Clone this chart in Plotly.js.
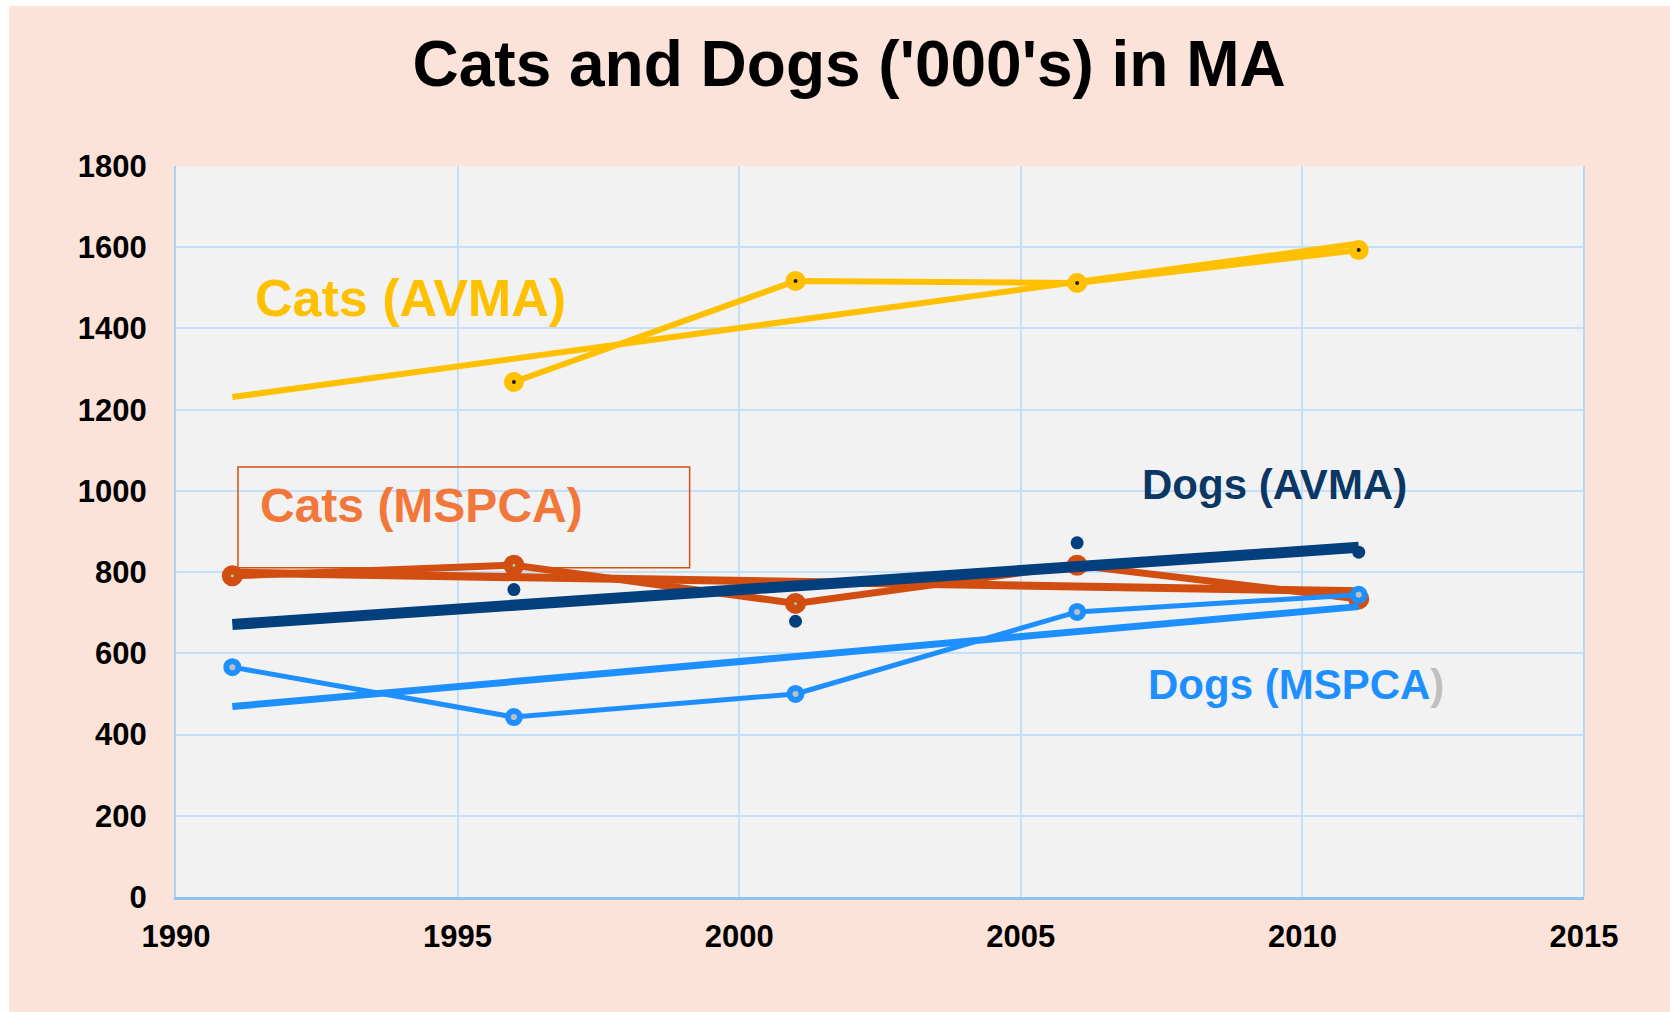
<!DOCTYPE html>
<html>
<head>
<meta charset="utf-8">
<script src="https://cdn.plot.ly/plotly-3.0.1.min.js"></script>
<style>
  html, body { margin: 0; padding: 0; background: #ffffff; }
  #chart { position: absolute; left: 9px; top: 6px; width: 1661px; height: 1006px; }
</style>
</head>
<body>
<div id="chart"></div>
<script>
// survey years
const years = [1991, 1996, 2001, 2006, 2011];
const yearsAvma = [1996, 2001, 2006, 2011];
const trendYears = [1991, 2011];

// values in thousands
const catsAvma = [1268, 1517, 1512, 1593];
const catsMspca = [791, 817, 723, 817, 734];
const dogsAvma = [757, 679, 872, 849];
const dogsMspca = [566, 443, 500, 702, 744];

// linear trend end points (1991, 2011)
const catsAvmaTrend = [1231, 1609];
const catsMspcaTrend = [799, 753];
const dogsAvmaTrend = [671, 861];
const dogsMspcaTrend = [469, 715];

const YELLOW = "#FFC000";
const ORANGE = "#D24D10";
const NAVY = "#023F7C";
const BLUE = "#1E8FFF";
const GRID = "#C3DFFA";

const traces = [
  {
    x: trendYears, y: catsAvmaTrend, type: "scatter", mode: "lines",
    line: { color: YELLOW, width: 6 },
  },
  {
    x: yearsAvma, y: catsAvma, type: "scatter", mode: "lines+markers",
    line: { color: YELLOW, width: 6 },
    marker: { size: 12, color: "#1a1a2e", line: { color: YELLOW, width: 8 } },
  },
  {
    x: trendYears, y: catsMspcaTrend, type: "scatter", mode: "lines",
    line: { color: ORANGE, width: 8 },
  },
  {
    x: years, y: catsMspca, type: "scatter", mode: "lines+markers",
    line: { color: ORANGE, width: 7 },
    marker: { size: 12, color: "#9ed39a", line: { color: ORANGE, width: 9 } },
  },
  {
    x: yearsAvma, y: dogsAvma, type: "scatter", mode: "markers",
    marker: { size: 13, color: NAVY },
  },
  {
    x: trendYears, y: dogsAvmaTrend, type: "scatter", mode: "lines",
    line: { color: NAVY, width: 11 },
  },
  {
    x: trendYears, y: dogsMspcaTrend, type: "scatter", mode: "lines",
    line: { color: BLUE, width: 7 },
  },
  {
    x: years, y: dogsMspca, type: "scatter", mode: "lines+markers",
    line: { color: BLUE, width: 5 },
    marker: { size: 12, color: "#BFBFBF", line: { color: BLUE, width: 6 } },
  },
];

const FONT = "Liberation Sans, Arial, sans-serif";

const layout = {
  width: 1661,
  height: 1006,
  paper_bgcolor: "#FCE3D9",
  plot_bgcolor: "#F2F2F2",
  showlegend: false,
  hovermode: false,
  margin: { l: 167, r: 86, t: 160, b: 115 },
  font: { family: FONT, color: "#000000" },
  title: {
    text: "Cats and Dogs ('000's) in MA",
    font: { family: FONT, size: 64, weight: "bold", color: "#000000" },
    xref: "container", x: 0.5058, xanchor: "center",
    yref: "container", y: 0.943, yanchor: "middle",
  },
  xaxis: {
    range: [1990, 2015],
    dtick: 5,
    tick0: 1990,
    showgrid: true,
    gridcolor: GRID,
    gridwidth: 2,
    zeroline: false,
    showline: true,
    linecolor: "#8EC4F3",
    linewidth: 3,
    mirror: false,
    ticks: "outside",
    ticklen: 10,
    tickcolor: "rgba(0,0,0,0)",
    tickfont: { family: FONT, size: 31, weight: "bold", color: "#000000" },
  },
  yaxis: {
    range: [0, 1800],
    dtick: 200,
    showgrid: true,
    gridcolor: GRID,
    gridwidth: 2,
    zeroline: false,
    showline: true,
    linecolor: "#A9D2F7",
    linewidth: 2,
    ticks: "outside",
    ticklen: 21,
    tickcolor: "rgba(0,0,0,0)",
    tickfont: { family: FONT, size: 31, weight: "bold", color: "#000000" },
  },
  shapes: [
    {
      type: "rect", xref: "x", yref: "y",
      x0: 1991.1, x1: 1999.12, y0: 810.5, y1: 1059,
      line: { color: "#D45113", width: 1.5 },
      fillcolor: "rgba(0,0,0,0)",
    },
    {
      type: "line", xref: "paper", yref: "paper",
      x0: 1, x1: 1, y0: 0, y1: 1,
      line: { color: "#B5D8F8", width: 2 },
    },
  ],
  annotations: [
    {
      text: "Cats (AVMA)", x: 1991.375, y: 1475, xref: "x", yref: "y",
      xanchor: "left", yanchor: "middle", showarrow: false,
      font: { family: FONT, size: 52, weight: "bold", color: YELLOW },
    },
    {
      text: "Cats (MSPCA)", x: 1991.455, y: 965, xref: "x", yref: "y",
      xanchor: "left", yanchor: "middle", showarrow: false,
      font: { family: FONT, size: 48, weight: "bold", color: "#F2773A" },
    },
    {
      text: "Dogs (AVMA)", x: 2007.12, y: 1015, xref: "x", yref: "y",
      xanchor: "left", yanchor: "middle", showarrow: false,
      font: { family: FONT, size: 42, weight: "bold", color: "#0B3764" },
    },
    {
      text: "Dogs (MSPCA<span style=\"color:#BFBFBF\">)</span>", x: 2007.23, y: 524, xref: "x", yref: "y",
      xanchor: "left", yanchor: "middle", showarrow: false,
      font: { family: FONT, size: 42, weight: "bold", color: BLUE },
    },
  ],
};

Plotly.newPlot("chart", traces, layout, { displayModeBar: false, staticPlot: true });
</script>
</body>
</html>
